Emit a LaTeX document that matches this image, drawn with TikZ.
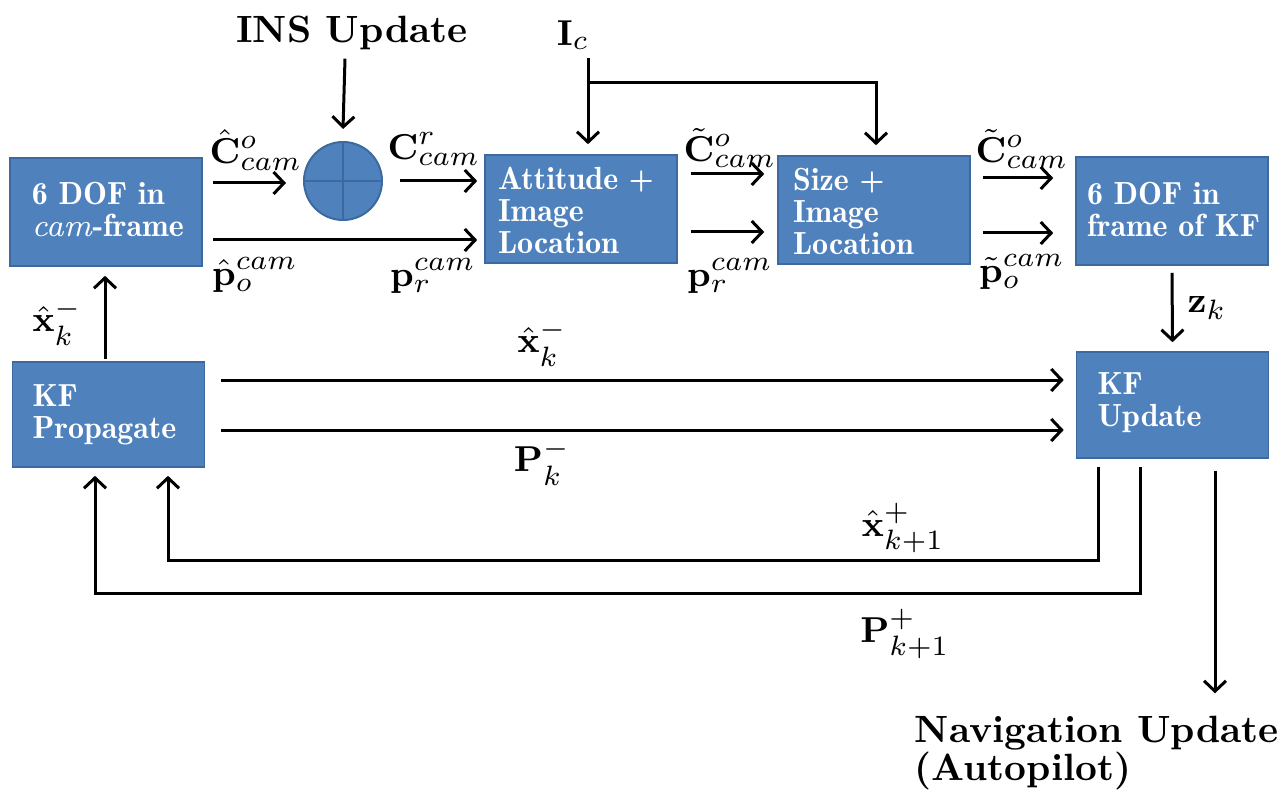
\documentclass[tikz,border=0pt]{standalone}
\usepackage{amsmath,bm}
\usetikzlibrary{arrows.meta,calc}
\definecolor{boxblue}{HTML}{4F81BD}
\definecolor{boxedge}{HTML}{3C6A9E}
\begin{document}
\begin{tikzpicture}[x=0.25pt,y=-0.25pt,
  blk/.style={draw=boxedge,line width=0.4pt,fill=boxblue,rectangle,
    minimum width=48pt,minimum height=27pt,inner sep=0pt},
  btxt/.style={text=white,font=\fontsize{8}{8}\fontseries{b}\selectfont,align=left,
    inner sep=0pt,anchor=west},
  arr/.style={line width=0.75pt,-{Straight Barb[length=2.6pt,width=5.5pt]}},
  lab/.style={inner sep=0pt,font=\fontsize{9.5}{11}\selectfont},
  big/.style={inner sep=0pt,font=\fontsize{9.5}{9.5}\selectfont\bfseries}]
\useasboundingbox (0,0) rectangle (1284,791);
% boxes
\node[blk] (b1) at (106,212) {};
\node[blk] (b2) at (581,209) {};
\node[blk] (b3) at (874,210) {};
\node[blk] (b4) at (1172,211) {};
\node[blk,minimum height=26.25pt] (kfp) at (108.5,414.5) {};
\node[blk,minimum height=26.5pt] (kfu) at (1172.5,405) {};
\node[btxt] (t1) at ($(b1.west)+(22,-2)$) {6 DOF in\\\textit{\mdseries cam}-frame};
\node[btxt] (t2) at ($(b2.west)+(13,1)$) {Attitude +\\Image\\Location};
\node[btxt] (t3) at ($(b3.west)+(15,1)$) {Size +\\Image\\Location};
\node[btxt] (t4) at ($(b4.west)+(11,-2)$) {6 DOF in\\frame of KF};
\node[btxt] (t5) at ($(kfp.west)+(20,0)$) {KF\\Propagate};
\node[btxt] (t6) at ($(kfu.west)+(21,-2)$) {KF\\Update};
% summing junction
\node[circle,draw=boxedge,line width=0.5pt,fill=boxblue,minimum size=19.5pt,inner sep=0pt] (circ) at (343,181) {};
\draw[boxedge,line width=0.5pt] (circ.north) -- (circ.south) (circ.west) -- (circ.east);
% top texts
\node[big] (ins) at (352,33) {INS Update};
\node[lab] (ic) at (573,35) {$\mathbf{I}_c$};
\node[big,align=left,anchor=west] (nav) at (914,753) {Navigation Update\\(Autopilot)};
% labels
\node[lab] at (256,150) {$\hat{\mathbf{C}}^{o}_{cam}$};
\node[lab] at (434,149) {$\mathbf{C}^{r}_{cam}$};
\node[lab] at (255,275) {$\hat{\mathbf{p}}^{cam}_{o}$};
\node[lab] at (433,276) {$\mathbf{p}^{cam}_{r}$};
\node[lab] at (730,148) {$\tilde{\mathbf{C}}^{o}_{cam}$};
\node[lab] at (730,276) {$\mathbf{p}^{cam}_{r}$};
\node[lab] at (1022,149) {$\tilde{\mathbf{C}}^{o}_{cam}$};
\node[lab] at (1022,272) {$\tilde{\mathbf{p}}^{cam}_{o}$};
\node[lab] at (57,322) {$\hat{\mathbf{x}}^{-}_{k}$};
\node[lab] at (542,343) {$\hat{\mathbf{x}}^{-}_{k}$};
\node[lab] at (542,462) {$\mathbf{P}^{-}_{k}$};
\node[lab] at (903,528) {$\hat{\mathbf{x}}^{+}_{k+1}$};
\node[lab] at (905,634) {$\mathbf{P}^{+}_{k+1}$};
\node[lab] at (1207,308) {$\mathbf{z}_k$};
% connectors
\coordinate (j1) at (588,83);
\draw[arr] ($(b1.east |- circ)+(10,2)$) -- ($(circ.west)+(-17,2)$);
\draw[arr] ($(circ.east)+(17,0)$) -- ($(b2.west |- circ)+(-7,0)$);
\draw[arr] ($(b1.east)+(10,28)$) -- ($(b2.west)+(-7,31)$);
\draw[arr] ($(ins.south)+(-7,8)$) -- ($(circ.north)+(0,-12)$);
\draw[arr] (ic.south -| j1) ++(0,8) -- ($(b2.north -| j1)+(0,-10)$);
\draw[arr] (j1) -| ($(b3.north)+(2,-10)$);
\draw[arr] ($(b2.east)+(13,-35)$) -- ($(b3.west)+(-13,-36)$);
\draw[arr] ($(b2.east)+(13,23)$) -- ($(b3.west)+(-13,22)$);
\draw[arr] ($(b3.east)+(12,-32)$) -- ($(b4.west)+(-22,-33)$);
\draw[arr] ($(b3.east)+(12,23)$) -- ($(b4.west)+(-22,22)$);
\draw[arr] ($(b4.south)+(0,7)$) -- ($(kfu.north)+(0,-9)$);
\draw[arr] ($(kfp.north)+(-3.5,-2)$) -- ($(b1.south)+(-1,9)$);
\draw[arr] ($(kfp.east |- 0,380)+(16,0)$) -- ($(kfu.west |- 0,380)+(-12,0)$);
\draw[arr] ($(kfp.east |- 0,430)+(16,0)$) -- ($(kfu.west |- 0,430)+(-12,0)$);
\draw[arr] ($(kfu.south -| 1098,0)+(0,8)$) -- (1098,560) -| ($(kfp.south -| 168,0)+(0,8)$);
\draw[arr] ($(kfu.south -| 1140,0)+(0,8)$) -- (1140,593) -| ($(kfp.south -| 95,0)+(0,8)$);
\draw[arr] ($(kfu.south -| 1215,0)+(0,12)$) -- ($(nav.north west -| 1215,0)+(0,-22)$);
\end{tikzpicture}
\end{document}
